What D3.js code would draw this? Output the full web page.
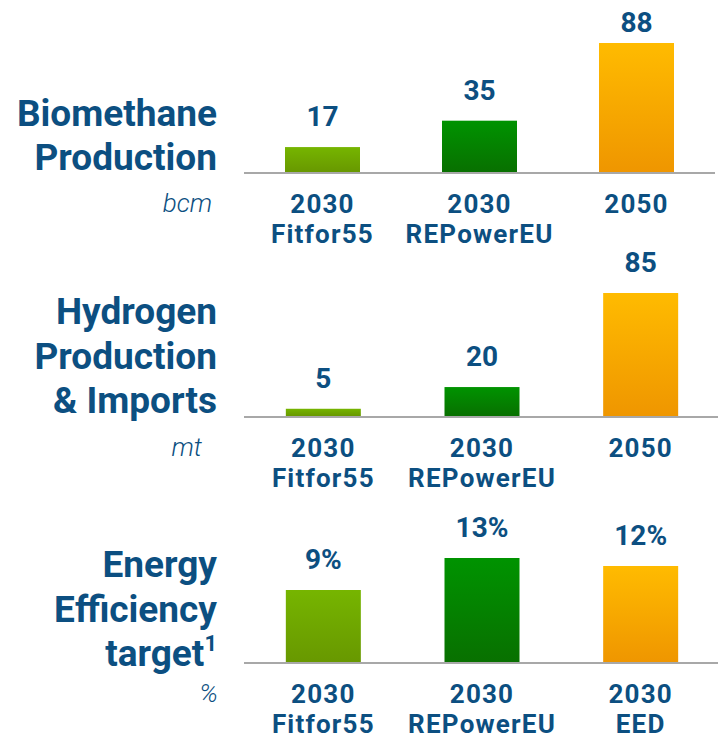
<!DOCTYPE html>
<html>
<head>
<meta charset="utf-8">
<script src="https://cdn.jsdelivr.net/npm/d3@7"></script>
<style>
  html, body { margin: 0; padding: 0; background: #fff; }
  svg { display: block; font-family: Roboto, "Noto Sans", sans-serif; }
</style>
</head>
<body>
<div id="chart"></div>
<script>
// Data
const biomethaneCategories = [["2030", "Fitfor55"], ["2030", "REPowerEU"], ["2050"]];
const biomethaneValues = [17, 35, 88];
const biomethaneLabels = ["17", "35", "88"];

const hydrogenCategories = [["2030", "Fitfor55"], ["2030", "REPowerEU"], ["2050"]];
const hydrogenValues = [5, 20, 85];
const hydrogenLabels = ["5", "20", "85"];

const efficiencyCategories = [["2030", "Fitfor55"], ["2030", "REPowerEU"], ["2030", "EED"]];
const efficiencyValues = [9, 13, 12];
const efficiencyLabels = ["9%", "13%", "12%"];

const panelTitles = [
    ["Biomethane", "Production"],
    ["Hydrogen", "Production", "& Imports"],
    ["Energy", "Efficiency", "target"]
];
const panelUnits = ["bcm", "mt", "%"];

const textColor = "#0c4f81";
const barColors = [
    ["#76b500", "#689800"],
    ["#009300", "#087000"],
    ["#ffbb00", "#ef9600"]
];

const W = 718, H = 742;
const svg = d3.select("#chart").append("svg")
    .attr("width", W)
    .attr("height", H);

const defs = svg.append("defs");
barColors.forEach((c, i) => {
    const grad = defs.append("linearGradient")
        .attr("id", "grad" + i)
        .attr("x1", 0).attr("y1", 0).attr("x2", 0).attr("y2", 1);
    grad.append("stop").attr("offset", "0%").attr("stop-color", c[0]);
    grad.append("stop").attr("offset", "100%").attr("stop-color", c[1]);
});

// layout of each panel: baseline y, tallest bar height, x range end, title last baseline
const panels = [
    { cats: biomethaneCategories, values: biomethaneValues, labels: biomethaneLabels, baseline: 172, maxH: 129, xEnd: 715, titleBase: 170, unitX: 212 },
    { cats: hydrogenCategories, values: hydrogenValues, labels: hydrogenLabels, baseline: 416, maxH: 123, xEnd: 720, titleBase: 413, unitX: 202 },
    { cats: efficiencyCategories, values: efficiencyValues, labels: efficiencyLabels, baseline: 662, maxH: 104, xEnd: 720, titleBase: 666, unitX: 218 }
];

const barWidth = 75;

panels.forEach((p, pi) => {
    const g = svg.append("g");

    const x = d3.scalePoint()
        .domain([0, 1, 2])
        .range([244, p.xEnd])
        .padding(0.5);

    const y = d3.scaleLinear()
        .domain([0, d3.max(p.values)])
        .range([p.baseline, p.baseline - p.maxH]);

    // bars
    g.selectAll("rect.bar")
        .data(p.values)
        .enter().append("rect")
        .attr("class", "bar")
        .attr("x", (d, i) => x(i) - barWidth / 2)
        .attr("y", d => y(d))
        .attr("width", barWidth)
        .attr("height", d => p.baseline - y(d))
        .attr("fill", (d, i) => `url(#grad${i})`);

    // baseline
    g.append("line")
        .attr("x1", 244).attr("x2", p.xEnd)
        .attr("y1", p.baseline + 1).attr("y2", p.baseline + 1)
        .attr("stroke", "#a8a8a8")
        .attr("stroke-width", 2);

    // value labels (kept inside the top edge)
    g.selectAll("text.value")
        .data(p.values)
        .enter().append("text")
        .attr("class", "value")
        .attr("x", (d, i) => x(i))
        .attr("y", d => Math.max(y(d) - 21, 32))
        .attr("text-anchor", "middle")
        .attr("fill", textColor)
        .attr("font-size", 28)
        .attr("font-weight", "bold")
        .text((d, i) => p.labels[i]);

    // category labels
    p.cats.forEach((lines, i) => {
        const t = g.append("text")
            .attr("x", x(i))
            .attr("y", p.baseline + 41)
            .attr("text-anchor", "middle")
            .attr("fill", textColor)
            .attr("font-size", 26)
            .attr("font-weight", "bold")
            .style("font-kerning", "none")
            .attr("letter-spacing", 1.2);
        lines.forEach((l, li) => {
            t.append("tspan")
                .attr("x", x(i))
                .attr("dy", li === 0 ? 0 : 30)
                .text(l);
        });
    });

    // panel title, right aligned
    const titleLines = panelTitles[pi];
    titleLines.forEach((l, li) => {
        const t = g.append("text")
            .attr("x", 217)
            .attr("y", p.titleBase - (titleLines.length - 1 - li) * 44.5)
            .attr("text-anchor", "end")
            .attr("fill", textColor)
            .attr("font-size", 37)
            .attr("font-weight", "bold")
            .text(l);
        if (pi === 2 && li === titleLines.length - 1) {
            t.append("tspan")
                .attr("font-size", 22)
                .attr("dy", -15)
                .text("1");
        }
    });

    // unit
    g.append("text")
        .attr("x", p.unitX)
        .attr("y", p.baseline + 40)
        .attr("text-anchor", "end")
        .attr("fill", textColor)
        .attr("font-size", 26)
        .attr("font-weight", 300)
        .attr("font-style", "italic")
        .text(panelUnits[pi]);
});
</script>
</body>
</html>
